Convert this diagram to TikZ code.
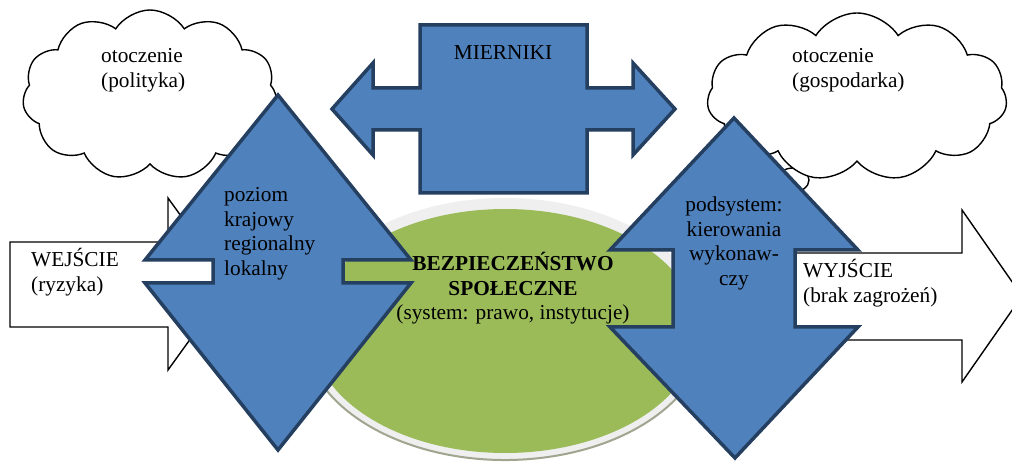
\documentclass[tikz,border=0pt]{standalone}
\usepackage{fontspec}
\setmainfont{Liberation Serif}
\usetikzlibrary{shapes.symbols}
\definecolor{bfill}{HTML}{4F81BD}
\definecolor{bline}{HTML}{253F61}
\definecolor{gfill}{HTML}{9BBB59}
\definecolor{rimfill}{HTML}{EFEFEF}
\definecolor{rimedge}{HTML}{9FA58E}
\begin{document}
\begin{tikzpicture}[x=1pt,y=-1pt,
  bluebox/.style={fill=bfill, draw=bline, line width=3.5pt, line join=miter},
  whitearrow/.style={fill=white, draw=black, line width=1.4pt, line join=miter},
  cloudbox/.style={cloud, cloud puffs=11, cloud puff arc=115, cloud ignores aspect, draw=black, fill=white, line width=1.4pt, inner sep=0pt},
  lbl/.style={inner sep=0pt, font=\fontsize{21.3}{24.5}\selectfont},
]
\useasboundingbox (0,0) rectangle (1012,462);
\fill[white] (0,0) rectangle (1012,462);

% clouds
\draw[fill=white, draw=black, line width=1.4pt] (793,180) ellipse [x radius=16pt, y radius=12pt];
\node[cloudbox, minimum width=255pt, minimum height=170pt] (cl) at (150,95) {};
\node[cloudbox, minimum width=300pt, minimum height=168pt] (cr) at (857,97) {};

% white input / output arrows
\draw[whitearrow] (10,242) -- (168,242) -- (168,198) -- (230,284) -- (168,370) -- (168,327) -- (10,327) -- cycle;
\draw[whitearrow] (760,253) -- (962,253) -- (962,210) -- (1022,296) -- (962,382) -- (962,340) -- (760,340) -- cycle;

% central disk
\fill[rimfill] (505,329) ellipse [x radius=202pt, y radius=131pt];
\draw[rimedge, line width=2pt] (505,329) ++(195:202pt and 131pt) arc[start angle=195, end angle=345, x radius=202pt, y radius=131pt];
\fill[gfill] (505,331) ellipse [x radius=193pt, y radius=122pt];

% blue shapes
\draw[bluebox] (278,95) -- (411,260) -- (343,260) -- (343,283) -- (411,283) -- (278,450) -- (145,283) -- (213,283) -- (213,260) -- (145,260) -- cycle;
\draw[bluebox] (734,118) -- (858,250) -- (795,250) -- (795,327) -- (858,327) -- (735,458) -- (610,327) -- (673,327) -- (673,250) -- (610,250) -- cycle;
\draw[bluebox] (420,25) -- (587,25) -- (587,88) -- (633,88) -- (633,63) -- (675,109) -- (633,155) -- (633,130) -- (587,130) -- (587,193) -- (420,193) -- (420,130) -- (373,130) -- (373,155) -- (332,109) -- (373,63) -- (373,88) -- (420,88) -- cycle;

% texts
\node[lbl, anchor=base west] (tcl) at (101,63) {\begin{tabular}[t]{@{}l@{}}otoczenie\\(polityka)\end{tabular}};
\node[lbl, anchor=base west] (tcr) at (792,63) {\begin{tabular}[t]{@{}l@{}}otoczenie\\(gospodarka)\end{tabular}};
\node[lbl, anchor=base] (tm) at (503,60) {MIERNIKI};
\node[lbl, anchor=base west] (tl) at (224,202) {\begin{tabular}[t]{@{}l@{}}poziom\\krajowy\\regionalny\\lokalny\end{tabular}};
\node[lbl, anchor=base] (tr) at (734,212) {\begin{tabular}[t]{@{}c@{}}podsystem:\\kierowania\\wykonaw-\\czy\end{tabular}};
\node[lbl, anchor=base] (tc) at (513,271) {\begin{tabular}[t]{@{}c@{}}\textbf{BEZPIECZEŃSTWO}\\\textbf{SPOŁECZNE}\\(system: prawo, instytucje)\end{tabular}};
\node[lbl, anchor=base west] (tin) at (31,267) {\begin{tabular}[t]{@{}l@{}}WEJŚCIE\\(ryzyka)\end{tabular}};
\node[lbl, anchor=base west] (tout) at (803,278) {\begin{tabular}[t]{@{}l@{}}WYJŚCIE\\(brak zagrożeń)\end{tabular}};
\end{tikzpicture}
\end{document}
